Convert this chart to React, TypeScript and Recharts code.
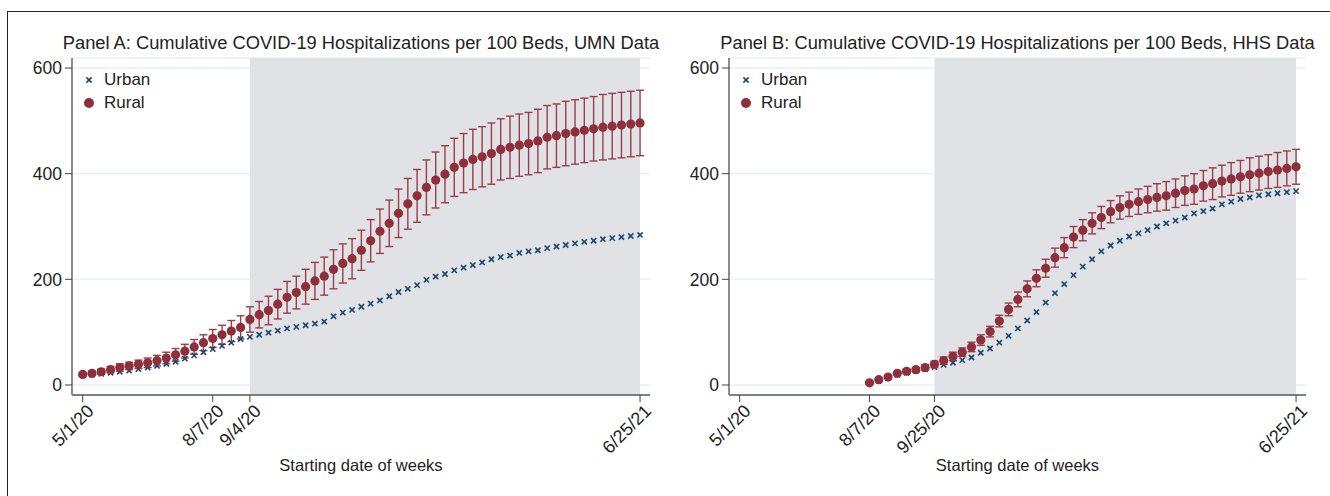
import { ScatterChart, Scatter, XAxis, YAxis, CartesianGrid, ReferenceArea, ErrorBar } from 'recharts';

const FONT = '"Liberation Sans", Arial, Helvetica, sans-serif';
const NAVY = '#1a476f';
const RED = '#8f2f3b';
const BAR = '#9b3d48';
const SHADE = '#e1e2e5';
const INK = '#222';

// week index 0 = 5/1/20 ... 60 = 6/25/21
const weeksA = Array.from({ length: 61 }, (_, i) => i);
const weeksB = weeksA.slice(14);

const tickWeeksA = [0, 14, 18, 60];
const tickLabelsA = ['5/1/20', '8/7/20', '9/4/20', '6/25/21'];
const tickWeeksB = [0, 14, 21, 60];
const tickLabelsB = ['5/1/20', '8/7/20', '9/25/20', '6/25/21'];

const urbanA = [
  18, 19, 21, 23, 25, 27, 30, 33, 36, 40, 44, 50, 56, 62, 68, 74, 80, 87, 91, 95,
  99, 103, 107, 110, 113, 116, 120, 130, 137, 142, 148, 154, 160, 168, 176, 182, 189, 199, 205, 210,
  217, 222, 227, 232, 238, 242, 245, 250, 253, 255, 259, 262, 265, 268, 271, 273, 276, 278, 280, 282,
  284,
];
const ruralA = [
  20, 22, 25, 29, 33, 36, 39, 42, 46, 51, 57, 64, 72, 80, 88, 95, 102, 109, 124, 133,
  141, 153, 166, 175, 186, 197, 206, 219, 230, 239, 255, 273, 291, 306, 325, 343, 358, 374, 388, 399,
  412, 420, 427, 432, 438, 446, 450, 454, 457, 462, 469, 472, 476, 479, 482, 485, 488, 490, 492, 494,
  496,
];
const ruralAErr = [
  3, 4, 5, 6, 7, 7, 8, 9, 10, 11, 12, 13, 14, 15, 17, 18, 20, 22, 24, 25,
  27, 28, 30, 31, 33, 35, 36, 37, 37, 38, 38, 40, 42, 44, 46, 48, 50, 52, 53, 54,
  55, 56, 57, 57, 58, 58, 59, 59, 59, 60, 60, 60, 61, 61, 61, 61, 62, 62, 62, 62,
  62,
];

const urbanB = [
  3, 8, 13, 19, 23, 27, 30, 34, 38, 42, 47, 52, 61, 69, 80, 93, 107, 122, 138, 156,
  174, 191, 208, 224, 238, 253, 264, 273, 281, 287, 293, 300, 306, 311, 317, 325, 329, 334, 342, 347,
  352, 355, 359, 361, 363, 365, 367,
];
const ruralB = [
  4, 10, 15, 22, 26, 29, 33, 39, 46, 54, 62, 72, 85, 101, 121, 143, 162, 182, 202, 221,
  241, 260, 280, 293, 306, 317, 328, 336, 342, 347, 351, 355, 358, 363, 368, 371, 377, 381, 386, 390,
  394, 398, 401, 404, 407, 410, 413,
];
const ruralBErr = [
  2, 2, 3, 3, 4, 4, 5, 6, 7, 8, 8, 9, 10, 10, 11, 12, 14, 15, 16, 17,
  18, 19, 20, 20, 20, 21, 21, 22, 23, 24, 25, 26, 27, 27, 28, 29, 29, 30, 30, 31,
  31, 32, 32, 32, 33, 33, 33,
];

const yTicks = [0, 200, 400, 600];

function Cross(props: any) {
  const { cx, cy } = props;
  if (cx == null || cy == null) return null;
  const s = 2.6;
  return (
    <g stroke={NAVY} strokeWidth={1.6}>
      <line x1={cx - s} y1={cy - s} x2={cx + s} y2={cy + s} />
      <line x1={cx - s} y1={cy + s} x2={cx + s} y2={cy - s} />
    </g>
  );
}

function Dot(props: any) {
  const { cx, cy } = props;
  if (cx == null || cy == null) return null;
  return <circle cx={cx} cy={cy} r={4.6} fill={RED} />;
}

function makeTick(weeks: number[], labels: string[]) {
  return function DateTick({ x, y, payload }: any) {
    const label = labels[weeks.indexOf(payload.value)];
    return (
      <g transform={`translate(${x + 3},${y - 1})`}>
        <text textAnchor="end" transform="rotate(-45)" dy="0.72em" fontSize={18} fill={INK} fontFamily={FONT}>
          {label}
        </text>
      </g>
    );
  };
}

type PanelProps = {
  left: number;
  title: string;
  weeks: number[];
  urban: number[];
  rural: number[];
  ruralErr: number[];
  shadeFrom: number;
  tickWeeks: number[];
  tickLabels: string[];
  marginLeft: number;
  marginRight: number;
};

function Panel(p: PanelProps) {
  const W = 665;
  const H = 496;
  const plotLeft = p.left + p.marginLeft + 40;
  const plotWidth = W - p.marginLeft - 40 - p.marginRight;
  const urbanData = p.weeks.map((w, i) => ({ w, v: p.urban[i] }));
  const ruralData = p.weeks.map((w, i) => ({ w, v: p.rural[i], e: p.ruralErr[i] }));
  const Tick = makeTick(p.tickWeeks, p.tickLabels);

  return (
    <>
      <div style={{ position: 'absolute', left: p.left, top: 0 }}>
        <ScatterChart width={W} height={H} margin={{ top: 58, right: p.marginRight, bottom: 71, left: p.marginLeft }}>
          <CartesianGrid vertical={false} stroke="#e8f0f2" strokeWidth={1.5} />
          <ReferenceArea x1={p.shadeFrom} x2={60} fill={SHADE} fillOpacity={1} stroke="none" ifOverflow="visible" />
          <XAxis
            type="number"
            dataKey="w"
            domain={[-1.15, 61.07]}
            ticks={p.tickWeeks}
            interval={0}
            allowDataOverflow
            height={30}
            tick={<Tick />}
            tickSize={7}
            axisLine={{ stroke: '#5a5a5a', strokeWidth: 1.5 }}
            tickLine={{ stroke: '#444', strokeWidth: 1 }}
          />
          <YAxis
            type="number"
            dataKey="v"
            domain={[-19, 619]}
            ticks={yTicks}
            interval={0}
            allowDataOverflow
            width={40}
            tickSize={7}
            tickMargin={3}
            tick={{ fontSize: 17.5, fill: INK, fontFamily: FONT }}
            axisLine={{ stroke: '#8c8c8c', strokeWidth: 2 }}
            tickLine={{ stroke: '#444', strokeWidth: 1 }}
          />
          <Scatter data={urbanData} shape={<Cross />} isAnimationActive={false} />
          <Scatter data={ruralData} shape={<Dot />} isAnimationActive={false}>
            <ErrorBar dataKey="e" direction="y" width={4} stroke={BAR} strokeWidth={1.4} isAnimationActive={false} />
          </Scatter>
        </ScatterChart>
      </div>
      <div
        style={{
          position: 'absolute', left: plotLeft - 20, width: plotWidth + 40, top: 33, textAlign: 'center',
          fontSize: 18.3, lineHeight: '20px', color: INK, fontFamily: FONT, whiteSpace: 'nowrap',
        }}
      >
        {p.title}
      </div>
      <div
        style={{
          position: 'absolute', left: plotLeft, width: plotWidth, top: 455, textAlign: 'center',
          fontSize: 16.5, lineHeight: '20px', color: INK, fontFamily: FONT,
        }}
      >
        Starting date of weeks
      </div>
      <div style={{ position: 'absolute', left: plotLeft + 9, top: 69, fontFamily: FONT, fontSize: 17, color: INK }}>
        <div style={{ display: 'flex', alignItems: 'center', height: 22 }}>
          <svg width={16} height={16} style={{ marginRight: 7 }}>
            <g stroke={NAVY} strokeWidth={1.6}>
              <line x1={5.4} y1={5.4} x2={10.6} y2={10.6} />
              <line x1={5.4} y1={10.6} x2={10.6} y2={5.4} />
            </g>
          </svg>
          Urban
        </div>
        <div style={{ display: 'flex', alignItems: 'center', height: 22, marginTop: 1 }}>
          <svg width={16} height={16} style={{ marginRight: 7 }}>
            <circle cx={8} cy={8} r={5} fill={RED} />
          </svg>
          Rural
        </div>
      </div>
    </>
  );
}

export default function App() {
  return (
    <div style={{ position: 'absolute', left: 0, top: 0, width: 1330, height: 496, background: '#fff', overflow: 'hidden' }}>
      <div style={{ position: 'absolute', left: 7, top: 11, right: -2, bottom: -2, borderLeft: '1px solid #222', borderTop: '1px solid #222' }} />
      <Panel
        left={0}
        title="Panel A: Cumulative COVID-19 Hospitalizations per 100 Beds, UMN Data"
        weeks={weeksA}
        urban={urbanA}
        rural={ruralA}
        ruralErr={ruralAErr}
        shadeFrom={18}
        tickWeeks={tickWeeksA}
        tickLabels={tickLabelsA}
        marginLeft={32}
        marginRight={15}
      />
      <Panel
        left={665}
        title="Panel B: Cumulative COVID-19 Hospitalizations per 100 Beds, HHS Data"
        weeks={weeksB}
        urban={urbanB}
        rural={ruralB}
        ruralErr={ruralBErr}
        shadeFrom={21}
        tickWeeks={tickWeeksB}
        tickLabels={tickLabelsB}
        marginLeft={24}
        marginRight={24}
      />
    </div>
  );
}
